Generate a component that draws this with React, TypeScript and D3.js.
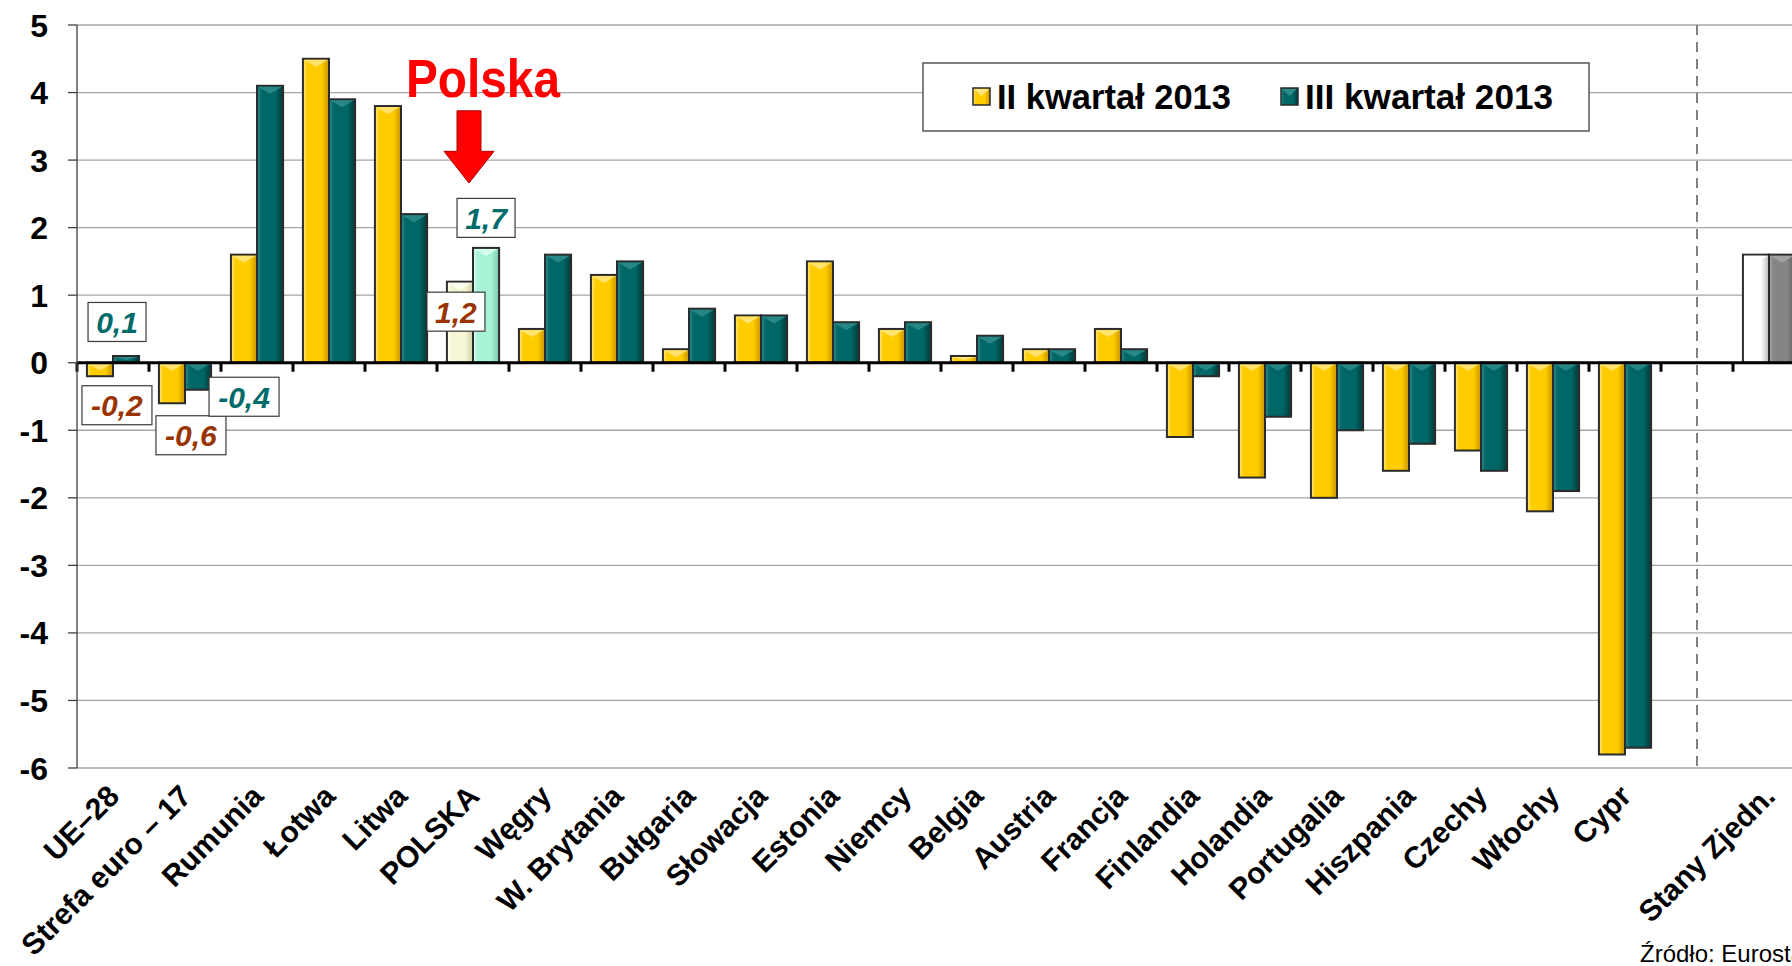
import React, { useRef, useEffect } from 'react';
import * as d3 from 'd3';

// Kraje (pusta kategoria = przerwa przed USA)
const categories = [
  'UE–28', 'Strefa euro – 17', 'Rumunia', 'Łotwa', 'Litwa', 'POLSKA', 'Węgry',
  'W. Brytania', 'Bułgaria', 'Słowacja', 'Estonia', 'Niemcy', 'Belgia', 'Austria',
  'Francja', 'Finlandia', 'Holandia', 'Portugalia', 'Hiszpania', 'Czechy', 'Włochy',
  'Cypr', '', 'Stany Zjedn.',
];

const seriesNames = ['II kwartał 2013', 'III kwartał 2013'];

const q2Values = [
  -0.2, -0.6, 1.6, 4.5, 3.8, 1.2, 0.5, 1.3, 0.2, 0.7, 1.5, 0.5, 0.1, 0.2, 0.5,
  -1.1, -1.7, -2.0, -1.6, -1.3, -2.2, -5.8, null, 1.6,
];
const q3Values = [
  0.1, -0.4, 4.1, 3.9, 2.2, 1.7, 1.6, 1.5, 0.8, 0.7, 0.6, 0.6, 0.4, 0.2, 0.2,
  -0.2, -0.8, -1.0, -1.2, -1.6, -1.9, -5.7, null, 1.6,
];

const yTicks = [5, 4, 3, 2, 1, 0, -1, -2, -3, -4, -5, -6];

// etykiety wartości w ramkach
const annotations = [
  { category: 'UE–28', series: 1, text: '0,1', dx: -9, dy: -34 },
  { category: 'UE–28', series: 0, text: '-0,2', dx: 17, dy: 29 },
  { category: 'Strefa euro – 17', series: 0, text: '-0,6', dx: 19, dy: 32 },
  { category: 'Strefa euro – 17', series: 1, text: '-0,4', dx: 46, dy: 7 },
  { category: 'POLSKA', series: 0, text: '1,2', dx: -4, dy: 30 },
  { category: 'POLSKA', series: 1, text: '1,7', dx: 0, dy: -30 },
];

// kolory: [jasny, bazowy, ciemny]
const palette = {
  yellow: ['#FFE680', '#FFCC00', '#C99600'],
  teal: ['#2E8C8C', '#006666', '#003838'],
  cream: ['#FFFFF4', '#F6F6D6', '#D2D2A8'],
  mint: ['#DDFFF2', '#A8F2D6', '#78C8AA'],
  white: ['#FFFFFF', '#FFFFFF', '#B8B8B8'],
  gray: ['#A6A6A6', '#858585', '#5A5A5A'],
};

const seriesColor = ['yellow', 'teal'];
const specialColors = {
  POLSKA: ['cream', 'mint'],
  'Stany Zjedn.': ['white', 'gray'],
};

const labelColors = ['#993300', '#006B6B'];

const FONT = '"Liberation Sans", Arial, sans-serif';

const Chart = ({ width = 1792, height = 966 }) => {
  const ref = useRef(null);

  useEffect(() => {
    const svg = d3.select(ref.current);
    svg.selectAll('*').remove();

    const left = 77;
    const step = 72;
    const yTop = 25;
    const yBottom = 768;

    const x0 = d3.scaleBand()
      .domain(categories)
      .range([left, left + step * categories.length])
      .padding(0);

    const x1 = d3.scaleBand()
      .domain([0, 1])
      .range([0, x0.bandwidth()])
      .paddingInner(0)
      .paddingOuter(0.38);

    const y = d3.scaleLinear().domain([5, -6]).range([yTop, yBottom]);

    // gradienty
    const defs = svg.append('defs');
    Object.entries(palette).forEach(([key, [light, base, dark]]) => {
      const g = defs.append('linearGradient')
        .attr('id', `grad-${key}`)
        .attr('x1', '0%').attr('x2', '100%').attr('y1', '0%').attr('y2', '0%');
      g.append('stop').attr('offset', '0%').attr('stop-color', light);
      g.append('stop').attr('offset', '18%').attr('stop-color', base);
      g.append('stop').attr('offset', '70%').attr('stop-color', base);
      g.append('stop').attr('offset', '100%').attr('stop-color', dark);
    });

    // siatka
    svg.append('g')
      .selectAll('line')
      .data(yTicks)
      .enter()
      .append('line')
      .attr('x1', left)
      .attr('x2', width)
      .attr('y1', d => y(d))
      .attr('y2', d => y(d))
      .attr('stroke', '#A6A6A6')
      .attr('stroke-width', 1.3);

    // linia przerywana przed USA
    const gapX = x0('') + x0.bandwidth() / 2;
    svg.append('line')
      .attr('x1', gapX).attr('x2', gapX)
      .attr('y1', yTop).attr('y2', yBottom)
      .attr('stroke', '#808080')
      .attr('stroke-width', 2)
      .attr('stroke-dasharray', '10,7');

    // słupki
    const bars = svg.append('g');
    categories.forEach((cat, i) => {
      [q2Values[i], q3Values[i]].forEach((v, s) => {
        if (v === null || v === undefined) return;
        const colorKey = specialColors[cat] ? specialColors[cat][s] : seriesColor[s];
        const [light] = palette[colorKey];
        const bx = x0(cat) + x1(s);
        const bw = x1.bandwidth();
        const top = y(Math.max(v, 0));
        const h = Math.abs(y(v) - y(0));

        bars.append('rect')
          .attr('x', bx)
          .attr('y', top)
          .attr('width', bw)
          .attr('height', h)
          .attr('fill', `url(#grad-${colorKey})`)
          .attr('stroke', '#2b2b2b')
          .attr('stroke-width', 2);

        // fazka na górze
        const bev = Math.min(7, h / 2);
        bars.append('polygon')
          .attr('points', [
            [bx + 1, top + 1],
            [bx + bw - 1, top + 1],
            [bx + bw / 2, top + 1 + bev],
          ].map(p => p.join(',')).join(' '))
          .attr('fill', light)
          .attr('opacity', 0.85);
      });
    });

    // linia zera i znaczniki
    svg.append('line')
      .attr('x1', left).attr('x2', width)
      .attr('y1', y(0)).attr('y2', y(0))
      .attr('stroke', '#000')
      .attr('stroke-width', 3);

    svg.append('g')
      .selectAll('line')
      .data(d3.range(categories.length + 1))
      .enter()
      .append('line')
      .attr('x1', d => left + d * step)
      .attr('x2', d => left + d * step)
      .attr('y1', y(0))
      .attr('y2', y(0) + 9)
      .attr('stroke', '#000')
      .attr('stroke-width', 3);

    // oś Y
    svg.append('line')
      .attr('x1', left).attr('x2', left)
      .attr('y1', yTop).attr('y2', yBottom)
      .attr('stroke', '#404040')
      .attr('stroke-width', 1.3);

    const yAxis = svg.append('g');
    yTicks.forEach(t => {
      yAxis.append('line')
        .attr('x1', left - 9).attr('x2', left)
        .attr('y1', y(t)).attr('y2', y(t))
        .attr('stroke', '#404040')
        .attr('stroke-width', 1.3);
      yAxis.append('text')
        .attr('x', 48)
        .attr('y', y(t) + 11.5)
        .attr('text-anchor', 'end')
        .attr('font-family', FONT)
        .attr('font-weight', 'bold')
        .attr('font-size', 32)
        .attr('fill', '#000')
        .text(t);
    });

    // etykiety kategorii
    svg.append('g')
      .selectAll('text')
      .data(categories.filter(c => c !== ''))
      .enter()
      .append('text')
      .attr('transform', d => `translate(${x0(d) + x0.bandwidth() / 2 + 8},${798}) rotate(-45)`)
      .attr('text-anchor', 'end')
      .attr('font-family', FONT)
      .attr('font-weight', 'bold')
      .attr('font-size', 30)
      .attr('fill', '#000')
      .text(d => d);

    // legenda
    const legend = svg.append('g');
    legend.append('rect')
      .attr('x', 923).attr('y', 63)
      .attr('width', 666).attr('height', 68)
      .attr('fill', '#fff')
      .attr('stroke', '#555')
      .attr('stroke-width', 1.5);

    const legendX = [973, 1281];
    const legendW = [234, 248];
    seriesNames.forEach((name, s) => {
      const key = seriesColor[s];
      legend.append('rect')
        .attr('x', legendX[s]).attr('y', 88)
        .attr('width', 17).attr('height', 17)
        .attr('fill', `url(#grad-${key})`)
        .attr('stroke', '#2b2b2b')
        .attr('stroke-width', 1.5);
      legend.append('polygon')
        .attr('points', `${legendX[s] + 1},89 ${legendX[s] + 16},89 ${legendX[s] + 8.5},96`)
        .attr('fill', palette[key][0]);
      legend.append('text')
        .attr('x', legendX[s] + 24)
        .attr('y', 109)
        .attr('font-family', FONT)
        .attr('font-weight', 'bold')
        .attr('font-size', 35)
        .attr('textLength', legendW[s])
        .attr('lengthAdjust', 'spacingAndGlyphs')
        .attr('fill', '#000')
        .text(name);
    });

    // etykiety wartości
    annotations.forEach(a => {
      const i = categories.indexOf(a.category);
      const v = a.series === 0 ? q2Values[i] : q3Values[i];
      const cx = x0(a.category) + x1(a.series) + x1.bandwidth() / 2 + a.dx;
      const cy = y(v) + a.dy;
      const bw = a.text.startsWith('-') ? 70 : 58;
      const bh = 39;
      svg.append('rect')
        .attr('x', cx - bw / 2).attr('y', cy - bh / 2)
        .attr('width', bw).attr('height', bh)
        .attr('fill', '#fff')
        .attr('stroke', '#3a3a3a')
        .attr('stroke-width', 1.2);
      svg.append('text')
        .attr('x', cx)
        .attr('y', cy + 11)
        .attr('text-anchor', 'middle')
        .attr('font-family', FONT)
        .attr('font-weight', 'bold')
        .attr('font-style', 'italic')
        .attr('font-size', 30)
        .attr('fill', labelColors[a.series])
        .text(a.text);
    });

    // napis "Polska" i strzałka
    const px = x0('POLSKA') + x0.bandwidth() / 2;
    svg.append('text')
      .attr('x', px + 10)
      .attr('y', 97)
      .attr('text-anchor', 'middle')
      .attr('font-family', FONT)
      .attr('font-weight', 'bold')
      .attr('font-size', 54)
      .attr('textLength', 154)
      .attr('lengthAdjust', 'spacingAndGlyphs')
      .attr('fill', '#FF0000')
      .text('Polska');

    const ax = px - 4;
    const aTop = y(3.73);
    const aMid = y(3.13);
    const aTip = y(2.66);
    svg.append('polygon')
      .attr('points', [
        [ax - 12, aTop], [ax + 12, aTop], [ax + 12, aMid], [ax + 25, aMid],
        [ax, aTip], [ax - 25, aMid], [ax - 12, aMid],
      ].map(p => p.join(',')).join(' '))
      .attr('fill', '#FF0000')
      .attr('stroke', '#B00000')
      .attr('stroke-width', 1);

    // źródło
    svg.append('text')
      .attr('x', 1640)
      .attr('y', 962)
      .attr('font-family', FONT)
      .attr('font-size', 24)
      .attr('fill', '#000')
      .text('Źródło: Eurostat');
  }, [width, height]);

  return (
    <svg
      ref={ref}
      width={width}
      height={height}
      style={{ position: 'absolute', left: 0, top: 0, background: '#fff' }}
    />
  );
};

export default function App() {
  return <Chart />;
}
